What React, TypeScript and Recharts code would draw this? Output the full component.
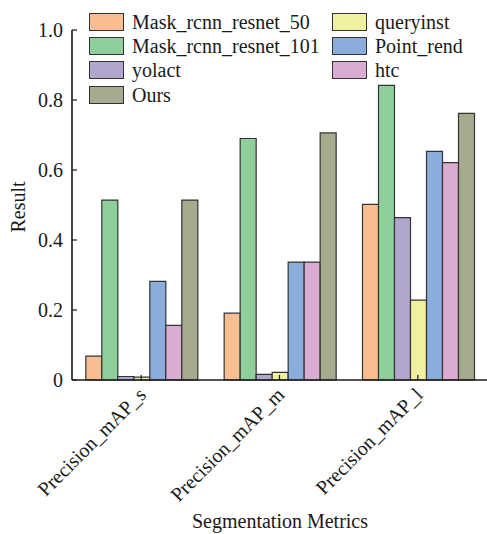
import { Bar, BarChart, XAxis, YAxis } from 'recharts'

const categories = ['Precision_mAP_s', 'Precision_mAP_m', 'Precision_mAP_l']
const mask50 = [0.068, 0.191, 0.502]
const mask101 = [0.514, 0.69, 0.842]
const yolact = [0.01, 0.016, 0.464]
const queryinst = [0.008, 0.022, 0.228]
const pointRend = [0.282, 0.337, 0.653]
const htc = [0.156, 0.337, 0.621]
const ours = [0.514, 0.706, 0.762]
const yTicks = [0, 0.2, 0.4, 0.6, 0.8, 1.0]

const series = [
  { key: 'Mask_rcnn_resnet_50', values: mask50, color: '#F8BE91' },
  { key: 'Mask_rcnn_resnet_101', values: mask101, color: '#8FCF9C' },
  { key: 'yolact', values: yolact, color: '#B2A6CE' },
  { key: 'queryinst', values: queryinst, color: '#F0F0A0' },
  { key: 'Point_rend', values: pointRend, color: '#8BADDB' },
  { key: 'htc', values: htc, color: '#DAACD1' },
  { key: 'Ours', values: ours, color: '#A6AA8E' },
]

// matplotlib ncol=2 fills column by column
const legendCols = [
  ['Mask_rcnn_resnet_50', 'Mask_rcnn_resnet_101', 'yolact', 'Ours'],
  ['queryinst', 'Point_rend', 'htc'],
]

const data = categories.map((name, i) => {
  const row: Record<string, string | number> = { name }
  series.forEach((s) => {
    row[s.key] = s.values[i]
  })
  return row
})

const FONT = 'Liberation Serif, Times New Roman, serif'
const INK = '#1a1a1a'

const XTick = (props: any) => {
  const { x, y, payload } = props
  const ax = x + 6
  const ay = y + 21
  return (
    <text
      x={ax}
      y={ay}
      textAnchor="end"
      transform={`rotate(-45 ${ax} ${ay})`}
      fontSize={20}
      fontFamily={FONT}
      fill={INK}
    >
      {payload.value}
    </text>
  )
}

const YTick = (props: any) => {
  const { x, y, payload } = props
  const v = payload.value as number
  return (
    <text x={x} y={y + 7} textAnchor="end" fontSize={20} fontFamily={FONT} fill={INK}>
      {v === 0 ? '0' : v.toFixed(1)}
    </text>
  )
}

function Legend() {
  const lefts = [89, 332]
  return (
    <>
      {legendCols.map((col, ci) => (
        <div
          key={ci}
          style={{ position: 'absolute', left: lefts[ci], top: 9.5, fontFamily: FONT, fontSize: 20, color: INK }}
        >
          {col.map((name) => {
            const s = series.find((d) => d.key === name)!
            return (
              <div key={name} style={{ display: 'flex', alignItems: 'center', height: 24.3 }}>
                <div
                  style={{
                    width: 35,
                    height: 18,
                    boxSizing: 'border-box',
                    background: s.color,
                    border: '1.3px solid #333',
                    marginRight: 8,
                  }}
                />
                <span style={{ lineHeight: '20px', whiteSpace: 'nowrap', fontFamily: FONT }}>{name}</span>
              </div>
            )
          })}
        </div>
      ))}
    </>
  )
}

export default function App() {
  return (
    <div
      style={{
        position: 'absolute',
        left: 0,
        top: 0,
        width: 487,
        height: 534,
        background: '#fff',
        fontFamily: FONT,
      }}
    >
      <BarChart
        width={487}
        height={534}
        data={data}
        margin={{ top: 30, right: 0, left: 0, bottom: 0 }}
        barCategoryGap="10%"
        barGap={0}
      >
        <XAxis
          dataKey="name"
          height={154}
          tickSize={-5}
          tickMargin={0}
          tickLine={{ stroke: INK, strokeWidth: 1.2 }}
          axisLine={{ stroke: INK, strokeWidth: 1.6 }}
          tick={<XTick />}
          interval={0}
          label={{
            content: () => (
              <text x={280} y={528} textAnchor="middle" fontSize={20} fontFamily={FONT} fill={INK}>
                Segmentation Metrics
              </text>
            ),
          }}
        />
        <YAxis
          width={72}
          domain={[0, 1]}
          ticks={yTicks}
          tickSize={-5}
          tickMargin={14}
          tick={<YTick />}
          tickLine={{ stroke: INK, strokeWidth: 1.2 }}
          axisLine={{ stroke: INK, strokeWidth: 1.6 }}
          label={{
            content: () => (
              <text
                x={25}
                y={207}
                textAnchor="middle"
                transform="rotate(-90 25 207)"
                fontSize={20}
                fontFamily={FONT}
                fill={INK}
              >
                Result
              </text>
            ),
          }}
        />
        {series.map((s) => (
          <Bar
            key={s.key}
            dataKey={s.key}
            fill={s.color}
            stroke="#333"
            strokeWidth={1.2}
            isAnimationActive={false}
          />
        ))}
      </BarChart>
      <Legend />
    </div>
  )
}
